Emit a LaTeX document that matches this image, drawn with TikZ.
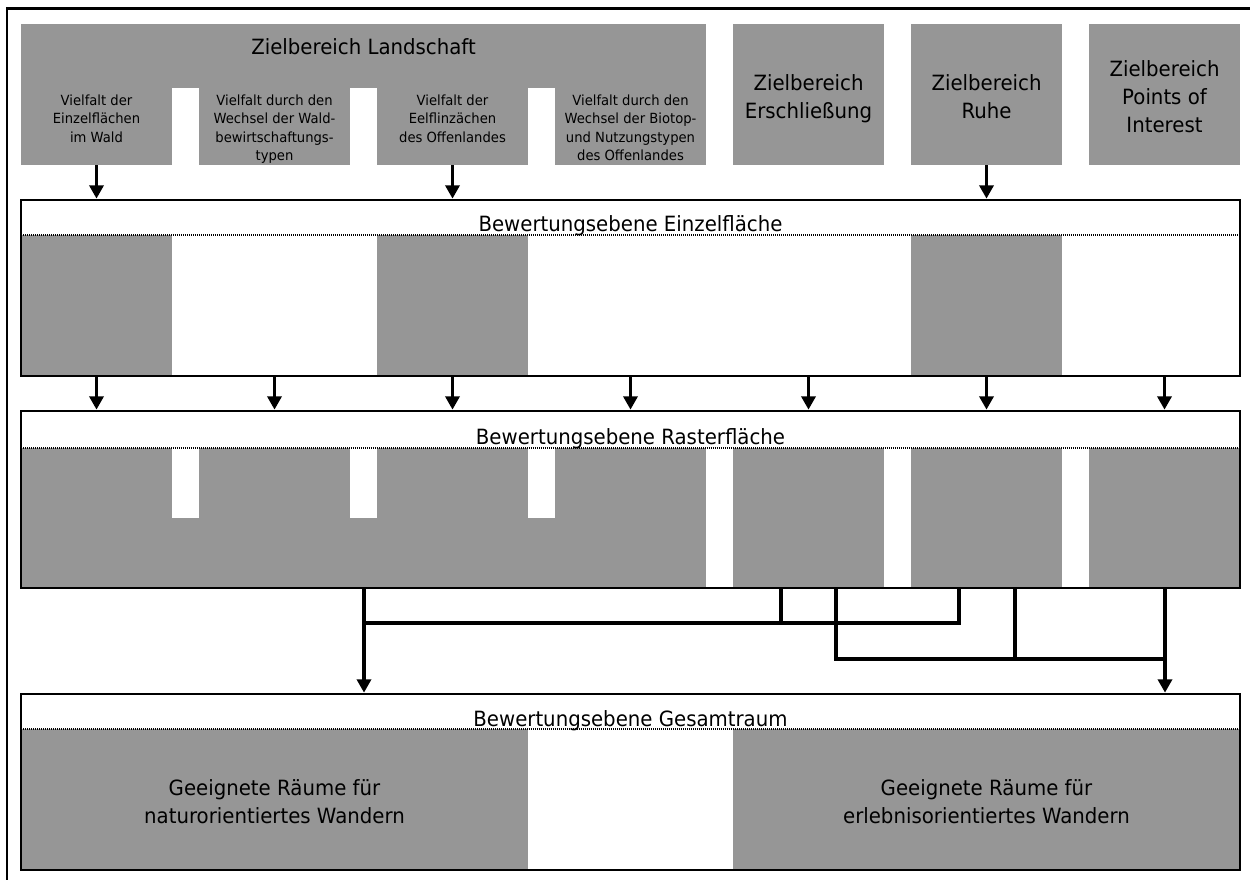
\documentclass[tikz,border=0pt]{standalone}
\usepackage{fontspec}
\setmainfont{DejaVu Sans}[FakeStretch=0.94]
\usetikzlibrary{fit,arrows.meta}

\definecolor{zgray}{RGB}{150,150,150}
\newcommand{\bigtxt}{\fontsize{15.75}{21}\selectfont}
\newcommand{\smalltxt}{\fontsize{10.5}{13.7}\selectfont}

\tikzset{every picture/.style={line width=0.75pt}}
\tikzset{
  graybox/.style={fill=zgray, draw=none, inner sep=0pt},
  evalbox/.style={draw=black, line width=2pt, inner sep=0pt},
  zarrow/.style={line width=2.6pt, -{Triangle[width=10.5pt,length=10pt]}},
  zline/.style={line width=2.6pt},
  sepline/.style={line width=0.8pt, dash pattern=on 0.75pt off 0.75pt},
  frameline/.style={line width=1.8pt},
  bigtext/.style={font=\bigtxt, align=center, inner sep=0pt},
  smalltext/.style={font=\smalltxt, align=center, inner sep=0pt}
}

\begin{document}
\begin{tikzpicture}[x=0.75pt,y=0.75pt,yscale=-1,xscale=1]
\useasboundingbox (0,0) rectangle (1250,880);
%Frame
\draw[frameline] (1250,8.5) -- (7,8.5) -- (7,880);
%Zielbereiche
\node[graybox, fit={(21,24) (706,88)}] (land) {};
\node[graybox, fit={(21,88) (172,165)}] (v1) {};
\node[graybox, fit={(199,88) (350,165)}] (v2) {};
\node[graybox, fit={(377,88) (528,165)}] (v3) {};
\node[graybox, fit={(555,88) (706,165)}] (v4) {};
\node[graybox, fit={(733,24) (884,165)}] (ersch) {};
\node[graybox, fit={(911,24) (1062,165)}] (ruhe) {};
\node[graybox, fit={(1089,24) (1240,165)}] (poi) {};
% Text Node
\node[bigtext, anchor=base] (tland) at (363.5,55) {Zielbereich Landschaft};
% Text Node
\node[smalltext, anchor=north] (tv1) at (96.5,94.5) {Vielfalt der\\Einzelflächen\\im Wald};
% Text Node
\node[smalltext, anchor=north] (tv2) at (274.5,94.5) {Vielfalt durch den\\Wechsel der Wald-\\bewirtschaftungs-\\typen};
% Text Node
\node[smalltext, anchor=north] (tv3) at (452.5,94.5) {Vielfalt der\\Eelflinzächen\\des Offenlandes};
% Text Node
\node[smalltext, anchor=north] (tv4) at (630.5,94.5) {Vielfalt durch den\\Wechsel der Biotop-\\und Nutzungstypen\\des Offenlandes};
% Text Node
\node[bigtext, anchor=north] (tersch) at (808.5,74) {Zielbereich\\Erschließung};
% Text Node
\node[bigtext, anchor=north] (truhe) at (986.5,74) {Zielbereich\\Ruhe};
% Text Node
\node[bigtext, anchor=north] (tpoi) at (1164.5,60) {Zielbereich\\Points of\\Interest};
%Bewertungsebene Einzelfläche
\node[graybox, fit={(21,235) (172,376)}] (e1) {};
\node[graybox, fit={(377,235) (528,376)}] (e3) {};
\node[graybox, fit={(911,235) (1062,376)}] (e6) {};
\draw[sepline] (21,235) -- (1240,235);
\node[evalbox, fit={(21,200) (1240,376)}] (einzel) {};
% Text Node
\node[bigtext, anchor=base] (teinzel) at (630.5,232) {Bewertungsebene Einzelfläche};
%Bewertungsebene Rasterfläche
\node[graybox, fit={(21,518) (706,588)}] (rbase) {};
\node[graybox, fit={(21,448) (172,588)}] (r1) {};
\node[graybox, fit={(199,448) (350,588)}] (r2) {};
\node[graybox, fit={(377,448) (528,588)}] (r3) {};
\node[graybox, fit={(555,448) (706,588)}] (r4) {};
\node[graybox, fit={(733,448) (884,588)}] (r5) {};
\node[graybox, fit={(911,448) (1062,588)}] (r6) {};
\node[graybox, fit={(1089,448) (1240,588)}] (r7) {};
\draw[sepline] (21,448) -- (1240,448);
\node[evalbox, fit={(21,411) (1240,588)}] (raster) {};
% Text Node
\node[bigtext, anchor=base] (traster) at (630.5,445) {Bewertungsebene Rasterfläche};
%Bewertungsebene Gesamtraum
\node[graybox, fit={(21,729) (528,870)}] (g1) {};
\node[graybox, fit={(733,729) (1240,870)}] (g2) {};
\draw[sepline] (21,729) -- (1240,729);
\node[evalbox, fit={(21,694) (1240,870)}] (gesamt) {};
% Text Node
\node[bigtext, anchor=base] (tgesamt) at (630.5,726) {Bewertungsebene Gesamtraum};
% Text Node
\node[bigtext] (tnatur) at (g1.center) [yshift=-1.5pt] {Geeignete Räume für\\naturorientiertes Wandern};
% Text Node
\node[bigtext] (terleb) at (g2.center) [yshift=-1.5pt] {Geeignete Räume für\\erlebnisorientiertes Wandern};
%Arrows Zielbereich -> Einzelfläche
\draw[zarrow] (v1.south) -- (v1.south |- einzel.north);
\draw[zarrow] (v3.south) -- (v3.south |- einzel.north);
\draw[zarrow] (ruhe.south) -- (ruhe.south |- einzel.north);
%Arrows Einzelfläche -> Rasterfläche
\draw[zarrow] (v1.south |- einzel.south) -- (v1.south |- raster.north);
\draw[zarrow] (v2.south |- einzel.south) -- (v2.south |- raster.north);
\draw[zarrow] (v3.south |- einzel.south) -- (v3.south |- raster.north);
\draw[zarrow] (v4.south |- einzel.south) -- (v4.south |- raster.north);
\draw[zarrow] (ersch.south |- einzel.south) -- (ersch.south |- raster.north);
\draw[zarrow] (ruhe.south |- einzel.south) -- (ruhe.south |- raster.north);
\draw[zarrow] (poi.south |- einzel.south) -- (poi.south |- raster.north);
%Lines Rasterfläche -> Gesamtraum
\coordinate (jn) at (364,623);
\coordinate (je) at (1165,659);
\draw[zline] (raster.south -| 781,0) -- (781,623);
\draw[zline] (raster.south -| 959,0) -- (959,623) -- (jn);
\draw[zline] (raster.south -| 1015,0) -- (1015,659);
\draw[zline] (raster.south -| 836,0) -- (836,659) -- (je);
\draw[zarrow] (raster.south -| jn) -- (gesamt.north -| jn);
\draw[zarrow] (raster.south -| je) -- (gesamt.north -| je);
\end{tikzpicture}
\end{document}
